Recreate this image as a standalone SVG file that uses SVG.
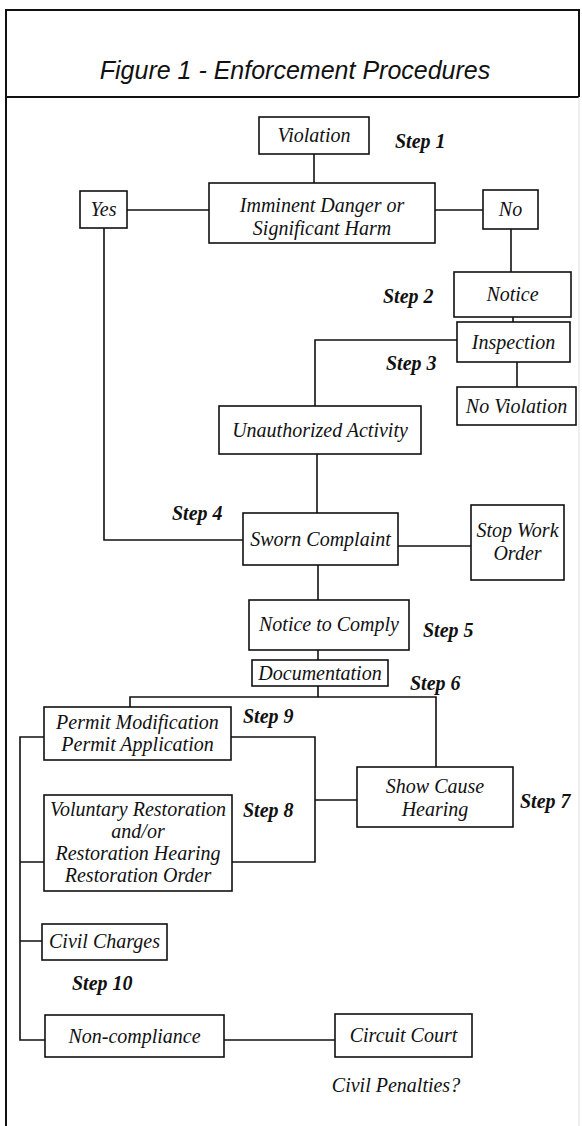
<svg xmlns="http://www.w3.org/2000/svg" width="582" height="1126" viewBox="0 0 582 1126">
<style>
.box{fill:#fff;stroke:#111;stroke-width:1.6}
.frame{fill:none;stroke:#111;stroke-width:2}
.c{fill:none;stroke:#111;stroke-width:1.6}
.t{font-family:"Liberation Serif",serif;font-style:italic;font-size:20px;fill:#111;text-anchor:middle}
.s{font-family:"Liberation Serif",serif;font-style:italic;font-weight:bold;font-size:20px;fill:#111}
.title{font-family:"Liberation Sans",sans-serif;font-style:italic;font-size:25px;fill:#111;text-anchor:middle}
</style>
<rect width="582" height="1126" fill="#fff"/>
<g id="frame">
<path class="frame" d="M6,1126 V10 H579 V97 M6,97 H579"/>
<path d="M579,97 V1126" stroke="#ddd" stroke-width="1" fill="none"/>
<text class="title" x="295" y="79">Figure 1 - Enforcement Procedures</text>
</g>
<g id="connectors">
<path class="c" d="M314,154 V183"/>
<path class="c" d="M127,210 H209"/>
<path class="c" d="M435,210 H483"/>
<path class="c" d="M511,229 V272"/>
<path class="c" d="M513,317 V322"/>
<path class="c" d="M457,340 H315 V406"/>
<path class="c" d="M517,362 V387"/>
<path class="c" d="M104,228 V540 H243"/>
<path class="c" d="M317,454 V513"/>
<path class="c" d="M398,546 H471"/>
<path class="c" d="M318,565 V600"/>
<path class="c" d="M318,650 V660"/>
<path class="c" d="M318,686 V697 M130,707 V697 H436 V767"/>
<path class="c" d="M231,737 H315 V862 H232 M315,800 H357"/>
<path class="c" d="M44,737 H20 V1040 H45 M20,862 H44 M20,941 H42"/>
<path class="c" d="M224,1040 H335"/>
</g>
<g id="violation"><rect class="box" x="259" y="117" width="110" height="37"/><text class="t" x="314" y="142">Violation</text></g>
<g id="step1"><text class="s" x="395" y="148">Step 1</text></g>
<g id="imminent"><rect class="box" x="209" y="183" width="226" height="60"/><text class="t" x="322" y="212">Imminent Danger or</text><text class="t" x="322" y="235">Significant Harm</text></g>
<g id="yes"><rect class="box" x="80" y="191" width="47" height="37"/><text class="t" x="103.5" y="216">Yes</text></g>
<g id="no"><rect class="box" x="483" y="190" width="55" height="39"/><text class="t" x="510.5" y="216">No</text></g>
<g id="notice"><rect class="box" x="454" y="272" width="117" height="45"/><text class="t" x="512.5" y="301">Notice</text></g>
<g id="step2"><text class="s" x="383" y="303">Step 2</text></g>
<g id="inspection"><rect class="box" x="457" y="322" width="113" height="40"/><text class="t" x="513.5" y="349">Inspection</text></g>
<g id="step3"><text class="s" x="386" y="370">Step 3</text></g>
<g id="noviolation"><rect class="box" x="457" y="387" width="119" height="38"/><text class="t" x="516.5" y="413">No Violation</text></g>
<g id="unauthorized"><rect class="box" x="219" y="406" width="202" height="48"/><text class="t" x="320" y="437">Unauthorized Activity</text></g>
<g id="sworn"><rect class="box" x="243" y="513" width="155" height="52"/><text class="t" x="320.5" y="546">Sworn Complaint</text></g>
<g id="step4"><text class="s" x="172" y="520">Step 4</text></g>
<g id="stopwork"><rect class="box" x="471" y="505" width="93" height="75"/><text class="t" x="517.5" y="537">Stop Work</text><text class="t" x="517.5" y="560">Order</text></g>
<g id="noticecomply"><rect class="box" x="249" y="600" width="160" height="50"/><text class="t" x="329" y="631">Notice to Comply</text></g>
<g id="step5"><text class="s" x="423" y="637">Step 5</text></g>
<g id="documentation"><rect class="box" x="252" y="660" width="136" height="26"/><text class="t" x="320" y="680">Documentation</text></g>
<g id="step6"><text class="s" x="410" y="690">Step 6</text></g>
<g id="permit"><rect class="box" x="44" y="707" width="187" height="53"/><text class="t" x="137.5" y="729">Permit Modification</text><text class="t" x="137.5" y="751">Permit Application</text></g>
<g id="step9"><text class="s" x="243" y="723">Step 9</text></g>
<g id="showcause"><rect class="box" x="357" y="767" width="156" height="60"/><text class="t" x="435" y="793">Show Cause</text><text class="t" x="435" y="816">Hearing</text></g>
<g id="step7"><text class="s" x="520" y="808">Step 7</text></g>
<g id="voluntary"><rect class="box" x="44" y="795" width="188" height="96"/><text class="t" x="138" y="816">Voluntary Restoration</text><text class="t" x="138" y="838">and/or</text><text class="t" x="138" y="860">Restoration Hearing</text><text class="t" x="138" y="882">Restoration Order</text></g>
<g id="step8"><text class="s" x="243" y="817">Step 8</text></g>
<g id="civilcharges"><rect class="box" x="42" y="924" width="125" height="36"/><text class="t" x="104.5" y="948">Civil Charges</text></g>
<g id="step10"><text class="s" x="72" y="990">Step 10</text></g>
<g id="noncompliance"><rect class="box" x="45" y="1015" width="179" height="42"/><text class="t" x="134.5" y="1043">Non-compliance</text></g>
<g id="circuit"><rect class="box" x="335" y="1014" width="137" height="43"/><text class="t" x="403.5" y="1042">Circuit Court</text></g>
<g id="penalties"><text class="t" x="396" y="1092">Civil Penalties?</text></g>
</svg>
